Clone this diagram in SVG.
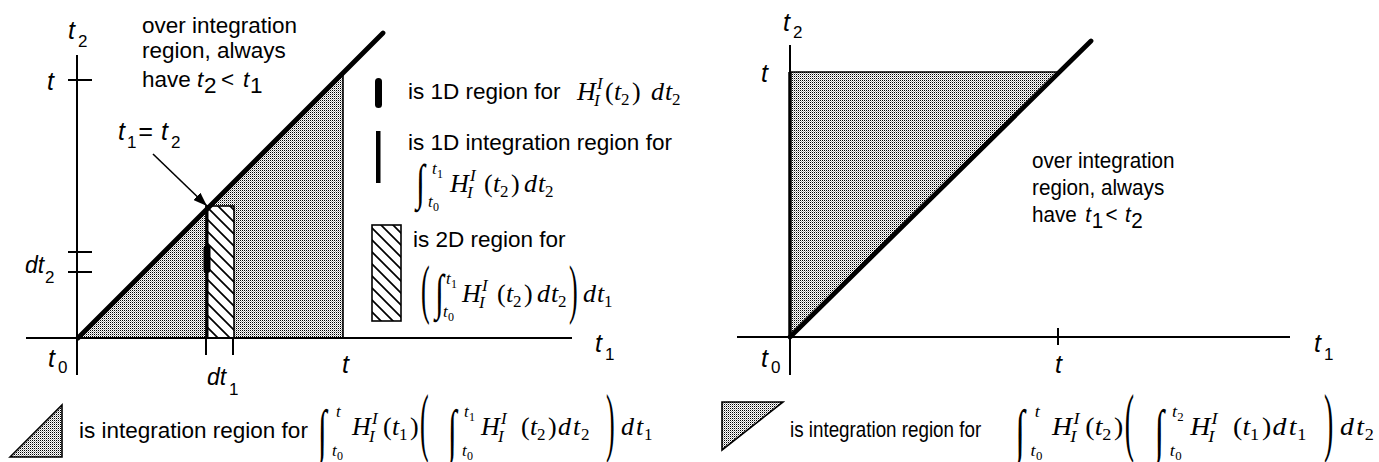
<svg xmlns="http://www.w3.org/2000/svg" width="1379" height="462" viewBox="0 0 1379 462">
<style>
.ax{stroke:#000;stroke-width:2;fill:none}
.thick{stroke:#000;stroke-width:4.8;stroke-linecap:round;fill:none}
.lb{font-family:"Liberation Sans",Arial,sans-serif;font-size:25px;font-style:italic;fill:#000}
.ld{font-family:"Liberation Sans",Arial,sans-serif;font-size:23px;font-style:italic;fill:#000}
.ls{font-family:"Liberation Sans",Arial,sans-serif;font-size:17px;fill:#000}
.tx{font-family:"Liberation Sans",Arial,sans-serif;font-size:22.5px;fill:#000}
.f{font-family:"Liberation Serif","Times New Roman",serif;font-size:26px;fill:#000}
.int{font-family:"Liberation Serif","Times New Roman",serif;font-size:32px;fill:#000}
.i{font-style:italic}
.s{font-size:17px}
.ss{font-size:12px}
</style>
<defs>
<pattern id="dots" width="2" height="2" patternUnits="userSpaceOnUse"><rect width="2" height="2" fill="#fff"/><rect width="1" height="1" fill="#000"/><rect x="1" y="1" width="1" height="1" fill="#a8a8a8"/></pattern>
<pattern id="hatch" width="12" height="12" patternUnits="userSpaceOnUse"><rect width="12" height="12" fill="#fff"/><path d="M-3,-3L15,15M-3,9L3,15M9,-3L15,3" stroke="#000" stroke-width="1.7"/></pattern>
<marker id="ah" markerUnits="userSpaceOnUse" viewBox="0 0 14 10" markerWidth="14" markerHeight="10" refX="14" refY="5" orient="auto"><path d="M0,0L14,5L0,10z" fill="#000"/></marker>
</defs>

<!-- LEFT PANEL -->
<g id="left-regions">
<polygon points="78,338 343,73 343,338" fill="url(#dots)" stroke="#000" stroke-width="1.6"/>
<rect x="206" y="206" width="28" height="132" fill="url(#hatch)" stroke="#000" stroke-width="1.6"/>
<line x1="207" y1="206" x2="207" y2="338" stroke="#000" stroke-width="3"/>
<rect x="203.5" y="245" width="7" height="28" rx="3.5" fill="#000"/>
</g>
<g id="left-axes">
<line class="ax" x1="26" y1="338" x2="572" y2="338"/>
<line class="ax" x1="77" y1="55" x2="77" y2="375"/>
<line class="ax" x1="68" y1="80" x2="92" y2="80"/>
<line class="ax" x1="68" y1="252" x2="92" y2="252"/>
<line class="ax" x1="68" y1="272" x2="92" y2="272"/>
<line class="ax" x1="206" y1="338" x2="206" y2="355"/>
<line class="ax" x1="233" y1="338" x2="233" y2="355"/>
<line class="thick" x1="78" y1="338" x2="383" y2="33"/>
</g>
<g id="left-labels">
<text class="lb" x="68" y="39">t</text><text class="ls" x="78" y="47">2</text>
<text class="lb" x="47" y="90">t</text>
<text class="lb" x="118" y="140">t</text><text class="ls" x="127" y="148">1</text>
<text class="lb" x="138" y="140" font-style="normal">=</text>
<text class="lb" x="161" y="140">t</text><text class="ls" x="171" y="148">2</text>
<text class="ld" x="25" y="273">dt</text><text class="ls" x="45" y="283">2</text>
<text class="ld" x="207" y="385">dt</text><text class="ls" x="229" y="395">1</text>
<text class="lb" x="48" y="367">t</text><text class="ls" x="58" y="373">0</text>
<text class="lb" x="342" y="373">t</text>
<text class="lb" x="595" y="352">t</text><text class="ls" x="605" y="360">1</text>
</g>
<g id="left-note">
<text class="tx" x="142" y="33">over integration</text>
<text class="tx" x="142" y="58">region, always</text>
<text class="tx" x="142" y="87">have</text>
<text class="tx" x="197" y="87" font-style="italic">t</text><text class="tx" x="204" y="93" font-size="15">2</text>
<text class="tx" x="221" y="87">&lt;</text>
<text class="tx" x="243" y="87" font-style="italic">t</text><text class="tx" x="250" y="93" font-size="15">1</text>
</g>

<g id="connectors">
<line x1="153" y1="154" x2="207" y2="206" stroke="#000" stroke-width="1.6" marker-end="url(#ah)"/>
</g>

<!-- LEFT LEGEND -->
<g id="legend-oval">
<rect x="375" y="78" width="7" height="30" rx="3.5" fill="#000"/>
<text class="tx" x="408" y="99">is 1D region for</text>
<text class="f i" x="577" y="100">H</text>
<text class="f i s" x="597" y="89">I</text><text class="f i s" x="594" y="106">I</text>
<text class="f" x="605" y="100">(</text><text class="f i" x="614" y="100">t</text><text class="f s" x="621" y="105">2</text><text class="f" x="632" y="100">)</text>
<text class="f i" x="651" y="100">d</text><text class="f i" x="665" y="100">t</text><text class="f s" x="672" y="105">2</text>
</g>
<g id="legend-bar">
<rect x="376" y="131" width="4.5" height="52" fill="#000"/>
<text class="tx" x="408" y="150">is 1D integration region for</text>
<text class="int" transform="translate(416,199) scale(1,1.55)">∫</text>
<text class="f i s" x="432" y="174">t</text><text class="f ss" x="437" y="178">1</text>
<text class="f i s" x="428" y="207">t</text><text class="f ss" x="433" y="211">0</text>
<text class="f i" x="450" y="192">H</text>
<text class="f i s" x="470" y="181">I</text><text class="f i s" x="467" y="198">I</text>
<text class="f" x="484" y="192">(</text><text class="f i" x="493" y="192">t</text><text class="f s" x="500" y="197">2</text><text class="f" x="511" y="192">)</text>
<text class="f i" x="524" y="192">d</text><text class="f i" x="538" y="192">t</text><text class="f s" x="545" y="197">2</text>
</g>
<g id="legend-hatch">
<rect x="372" y="225" width="29" height="96" fill="url(#hatch)" stroke="#000" stroke-width="1.6"/>
<text class="tx" x="413" y="247">is 2D region for</text>
<text class="f" transform="translate(421,311) scale(1,2.5)">(</text>
<text class="int" transform="translate(435,309) scale(1,1.55)">∫</text>
<text class="f i s" x="446" y="284">t</text><text class="f ss" x="451" y="288">1</text>
<text class="f i s" x="443" y="317">t</text><text class="f ss" x="448" y="321">0</text>
<text class="f i" x="462" y="302">H</text>
<text class="f i s" x="482" y="291">I</text><text class="f i s" x="479" y="308">I</text>
<text class="f" x="497" y="302">(</text><text class="f i" x="506" y="302">t</text><text class="f s" x="513" y="307">2</text><text class="f" x="524" y="302">)</text>
<text class="f i" x="537" y="302">d</text><text class="f i" x="551" y="302">t</text><text class="f s" x="558" y="307">2</text>
<text class="f" transform="translate(569,311) scale(1,2.5)">)</text>
<text class="f i" x="583" y="302">d</text><text class="f i" x="597" y="302">t</text><text class="f s" x="604" y="307">1</text>
</g>
<g id="legend-left-triangle">
<polygon points="10,457 62,405 62,457" fill="url(#dots)" stroke="#000" stroke-width="1.6"/>
<text class="tx" x="79" y="438">is integration region for</text>
<text class="int" transform="translate(318,451) scale(1,1.85)">∫</text>
<text class="f i s" x="336" y="417">t</text>
<text class="f i s" x="332" y="456">t</text><text class="f ss" x="337" y="460">0</text>
<text class="f i" x="352" y="435">H</text>
<text class="f i s" x="372" y="424">I</text><text class="f i s" x="369" y="442">I</text>
<text class="f" x="383" y="435">(</text><text class="f i" x="392" y="435">t</text><text class="f s" x="399" y="440">1</text><text class="f" x="410" y="435">)</text>
<text class="f" transform="translate(420,447) scale(1,2.9)">(</text>
<text class="int" transform="translate(448,451) scale(1,1.85)">∫</text>
<text class="f i s" x="464" y="417">t</text><text class="f ss" x="469" y="421">1</text>
<text class="f i s" x="462" y="456">t</text><text class="f ss" x="467" y="460">0</text>
<text class="f i" x="481" y="435">H</text>
<text class="f i s" x="501" y="424">I</text><text class="f i s" x="498" y="442">I</text>
<text class="f" x="521" y="435">(</text><text class="f i" x="530" y="435">t</text><text class="f s" x="537" y="440">2</text><text class="f" x="548" y="435">)</text>
<text class="f i" x="558" y="435">d</text><text class="f i" x="573" y="435">t</text><text class="f s" x="581" y="440">2</text>
<text class="f" transform="translate(606,447) scale(1,2.9)">)</text>
<text class="f i" x="621" y="435">d</text><text class="f i" x="636" y="435">t</text><text class="f s" x="644" y="440">1</text>
</g>

<!-- RIGHT PANEL -->
<g id="right-regions">
<polygon points="790,337 790,72 1058,72" fill="url(#dots)" stroke="#000" stroke-width="1.6"/>
<line x1="790" y1="72" x2="790" y2="337" stroke="#000" stroke-width="3.5"/>
</g>
<g id="right-axes">
<line class="ax" x1="737" y1="337" x2="1290" y2="337"/>
<line class="ax" x1="790" y1="45" x2="790" y2="375"/>
<line class="ax" x1="1058" y1="328" x2="1058" y2="345"/>
<line class="thick" x1="790" y1="337" x2="1091" y2="41"/>
</g>
<g id="right-labels">
<text class="lb" x="783" y="31">t</text><text class="ls" x="793" y="38">2</text>
<text class="lb" x="761" y="82">t</text>
<text class="lb" x="761" y="367">t</text><text class="ls" x="771" y="373">0</text>
<text class="lb" x="1055" y="373">t</text>
<text class="lb" x="1314" y="352">t</text><text class="ls" x="1324" y="360">1</text>
</g>
<g id="right-note" transform="translate(1032,0) scale(0.92,1)">
<text class="tx" x="0" y="168" font-size="24">over integration</text>
<text class="tx" x="0" y="195" font-size="24">region, always</text>
<text class="tx" x="0" y="222" font-size="24">have</text>
<text class="tx" x="58" y="222" font-size="24" font-style="italic">t</text><text class="tx" x="65" y="228" font-size="15">1</text>
<text class="tx" x="80" y="222" font-size="24">&lt;</text>
<text class="tx" x="101" y="222" font-size="24" font-style="italic">t</text><text class="tx" x="108" y="228" font-size="15">2</text>
</g>
<g id="legend-right-triangle">
<polygon points="722,402 783,402 722,450" fill="url(#dots)" stroke="#000" stroke-width="1.6"/>
<text class="tx" transform="translate(790,437) scale(0.836,1)" x="0" y="0" font-size="24">is integration region for</text>
<g transform="matrix(1.071,0,0,1,675,0)">
<text class="int" transform="translate(318,451) scale(1,1.85)">∫</text>
<text class="f i s" x="336" y="417">t</text>
<text class="f i s" x="332" y="456">t</text><text class="f ss" x="337" y="460">0</text>
<text class="f i" x="352" y="435">H</text>
<text class="f i s" x="372" y="424">I</text><text class="f i s" x="369" y="442">I</text>
<text class="f" x="383" y="435">(</text><text class="f i" x="392" y="435">t</text><text class="f s" x="399" y="440">2</text><text class="f" x="410" y="435">)</text>
<text class="f" transform="translate(420,447) scale(1,2.9)">(</text>
<text class="int" transform="translate(448,451) scale(1,1.85)">∫</text>
<text class="f i s" x="464" y="417">t</text><text class="f ss" x="469" y="421">2</text>
<text class="f i s" x="462" y="456">t</text><text class="f ss" x="467" y="460">0</text>
<text class="f i" x="481" y="435">H</text>
<text class="f i s" x="501" y="424">I</text><text class="f i s" x="498" y="442">I</text>
<text class="f" x="521" y="435">(</text><text class="f i" x="530" y="435">t</text><text class="f s" x="537" y="440">1</text><text class="f" x="548" y="435">)</text>
<text class="f i" x="558" y="435">d</text><text class="f i" x="573" y="435">t</text><text class="f s" x="581" y="440">1</text>
<text class="f" transform="translate(606,447) scale(1,2.9)">)</text>
<text class="f i" x="621" y="435">d</text><text class="f i" x="636" y="435">t</text><text class="f s" x="644" y="440">2</text>
</g>
</g>
</svg>
